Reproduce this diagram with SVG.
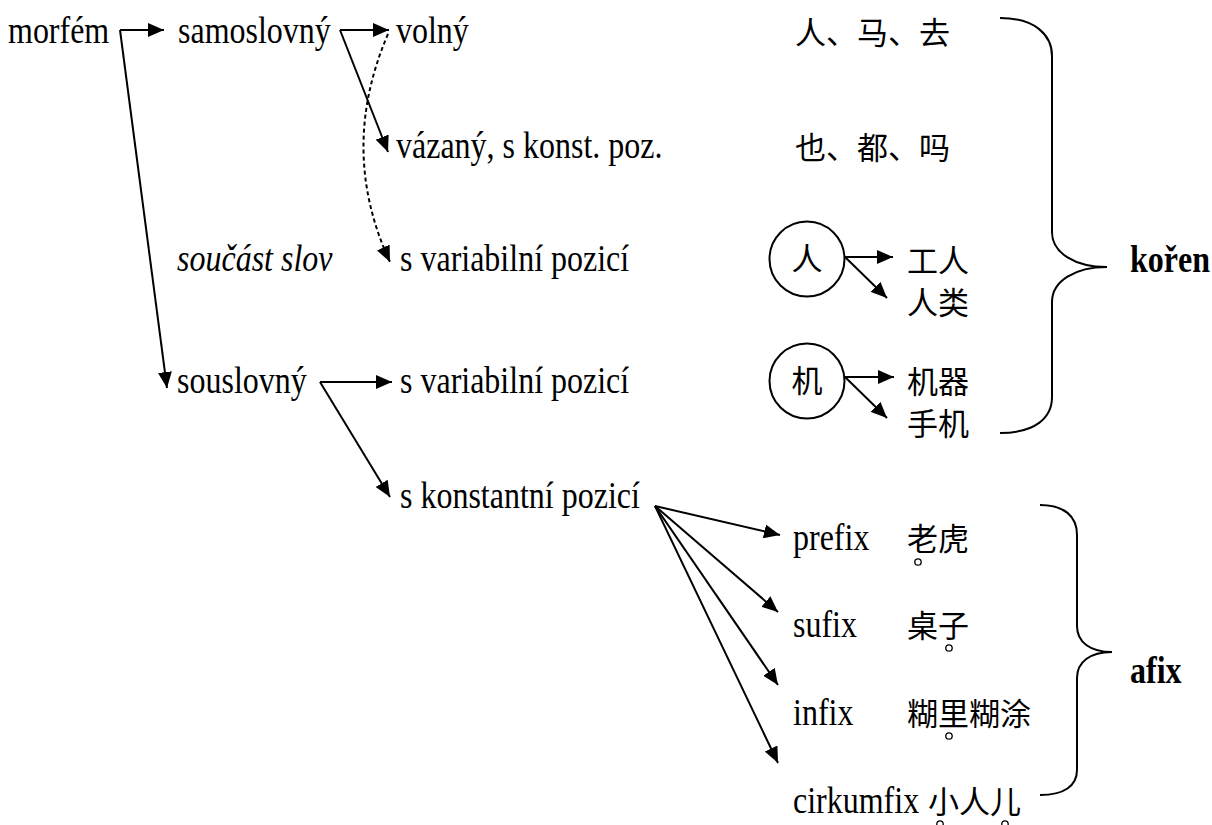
<svg xmlns="http://www.w3.org/2000/svg" width="1212" height="825" viewBox="0 0 1212 825">
<style>
text{font-family:"Liberation Serif",serif;font-size:32px;fill:#000}
.zh{font-family:"Liberation Serif","Noto Sans CJK SC",sans-serif;font-size:31px}
.it{font-style:italic}
.b{font-weight:bold}
.ln{fill:none;stroke:#000;stroke-width:2}
.dot{fill:#fff;stroke:#000;stroke-width:1.3}
</style>
<defs>
<marker id="ah" markerUnits="userSpaceOnUse" markerWidth="17" markerHeight="14" refX="16" refY="7" orient="auto"><path d="M0,0 L16,7 L0,14 z" fill="#000"/></marker>
</defs>
<rect width="1212" height="825" fill="#fff"/>
<g id="connectors">
<path class="ln" d="M120,30 L164,30" marker-end="url(#ah)"/>
<path class="ln" d="M120,30 L167,388" marker-end="url(#ah)"/>
<path class="ln" d="M340,30 L389,30" marker-end="url(#ah)"/>
<path class="ln" d="M340,30 L388,152" marker-end="url(#ah)"/>
<path class="ln" d="M388,34 Q338,150 390,262" stroke-dasharray="4,3" marker-end="url(#ah)"/>
<path class="ln" d="M320,382 L392,382" marker-end="url(#ah)"/>
<path class="ln" d="M320,382 L390,497" marker-end="url(#ah)"/>
<path class="ln" d="M845,257 L893,257" marker-end="url(#ah)"/>
<path class="ln" d="M845,257 L887,298" marker-end="url(#ah)"/>
<path class="ln" d="M845,377 L894,377" marker-end="url(#ah)"/>
<path class="ln" d="M845,377 L887,418" marker-end="url(#ah)"/>
<path class="ln" d="M655,506 L780,535" marker-end="url(#ah)"/>
<path class="ln" d="M655,506 L778,612" marker-end="url(#ah)"/>
<path class="ln" d="M655,506 L778,685" marker-end="url(#ah)"/>
<path class="ln" d="M655,506 L778,763" marker-end="url(#ah)"/>
</g>
<g id="n-morfem"><text transform="translate(8 43) scale(1 1.18)">morfém</text></g>
<g id="n-samoslovny"><text transform="translate(178 43) scale(1 1.18)">samoslovný</text></g>
<g id="n-volny"><text transform="translate(396 43) scale(1 1.18)">volný</text></g>
<g id="n-ex1"><text class="zh" x="795" y="44">人、马、去</text></g>
<g id="n-vazany"><text transform="translate(396 158) scale(1 1.18)">vázaný, s konst. poz.</text></g>
<g id="n-ex2"><text class="zh" x="795" y="159">也、都、吗</text></g>
<g id="n-soucast"><text class="it" transform="translate(177 271) scale(1 1.18)">součást slov</text></g>
<g id="n-var1"><text transform="translate(400 271) scale(1 1.18)">s variabilní pozicí</text></g>
<g id="n-ren"><circle class="ln" cx="807" cy="259" r="37.5"/><text class="zh" x="807" y="270" text-anchor="middle">人</text></g>
<g id="n-gongren"><text class="zh" x="907" y="272">工人</text></g>
<g id="n-renlei"><text class="zh" x="907" y="314">人类</text></g>
<g id="n-souslovny"><text transform="translate(177 393) scale(1 1.18)">souslovný</text></g>
<g id="n-var2"><text transform="translate(400 393) scale(1 1.18)">s variabilní pozicí</text></g>
<g id="n-ji"><circle class="ln" cx="807" cy="381" r="37.5"/><text class="zh" x="807" y="392" text-anchor="middle">机</text></g>
<g id="n-jiqi"><text class="zh" x="907" y="393">机器</text></g>
<g id="n-shouji"><text class="zh" x="907" y="435">手机</text></g>
<g id="n-konst"><text transform="translate(400 508) scale(1 1.18)">s konstantní pozicí</text></g>
<g id="n-prefix"><text transform="translate(793 550) scale(1 1.18)">prefix</text><text class="zh" x="907" y="550">老虎</text><circle class="dot" cx="918" cy="562" r="3.2"/></g>
<g id="n-sufix"><text transform="translate(793 637) scale(1 1.18)">sufix</text><text class="zh" x="907" y="637">桌子</text><circle class="dot" cx="949" cy="648" r="3.2"/></g>
<g id="n-infix"><text transform="translate(793 725) scale(1 1.18)">infix</text><text class="zh" x="907" y="725">糊里糊涂</text><circle class="dot" cx="949" cy="736" r="3.2"/></g>
<g id="n-cirkumfix"><text transform="translate(793 813) scale(1 1.18)">cirkumfix</text><text class="zh" x="928" y="813">小人儿</text><circle class="dot" cx="940" cy="824" r="3.2"/><circle class="dot" cx="1005" cy="824" r="3.2"/></g>
<g id="n-koren"><path class="ln" d="M1000,18 C1035,18 1052,35 1052,56 L1052,232 C1052,253 1075,267 1107,267 C1075,267 1052,281 1052,302 L1052,397 C1052,418 1035,433 1000,433"/><text class="b" transform="translate(1130 272) scale(1 1.18)">kořen</text></g>
<g id="n-afix"><path class="ln" d="M1040,505 C1064,505 1077,516 1077,535 L1077,626 C1077,642 1090,652 1112,652 C1090,652 1077,662 1077,678 L1077,770 C1077,786 1064,795 1040,795"/><text class="b" transform="translate(1130 683) scale(1 1.18)">afix</text></g>
</svg>
